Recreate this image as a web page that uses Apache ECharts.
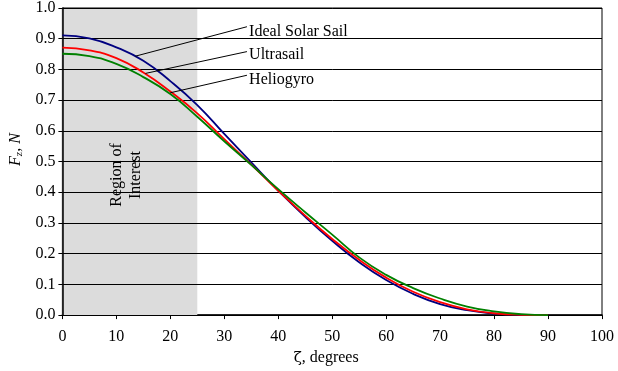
<!DOCTYPE html>
<html>
<head>
<meta charset="utf-8">
<script src="https://cdn.jsdelivr.net/npm/echarts@6/dist/echarts.min.js"></script>
<style>html,body{margin:0;padding:0;background:#fff}#c{width:618px;height:371px}</style>
</head>
<body>
<div id="c"></div>
<script>
// zeta, degrees
const angles = [0, 5, 10, 15, 20, 25, 30, 35, 40, 45, 50, 55, 60, 65, 70, 75, 80, 85, 90];
const idealSail = [0.911, 0.901, 0.872, 0.828, 0.762, 0.684, 0.590, 0.497, 0.405, 0.320, 0.242, 0.172, 0.114, 0.069, 0.036, 0.016, 0.005, 0.001, 0.000];
const ultrasail = [0.871, 0.862, 0.837, 0.790, 0.728, 0.657, 0.573, 0.490, 0.405, 0.324, 0.248, 0.180, 0.122, 0.076, 0.042, 0.019, 0.006, 0.001, 0.000];
const heliogyro = [0.851, 0.843, 0.818, 0.775, 0.720, 0.646, 0.566, 0.489, 0.410, 0.335, 0.262, 0.188, 0.131, 0.088, 0.054, 0.028, 0.012, 0.003, 0.000];
const seriesNames = ['Ideal Solar Sail', 'Ultrasail', 'Heliogyro'];
const seriesColors = ['#000080', '#ff0000', '#008000'];
// annotation: leader line start on curve, end near label, label anchor (data units)
const leaderStart = [[13.5, 0.843], [15.4, 0.787], [20.0, 0.724]];
const leaderEnd = [[34.2, 0.939], [34.2, 0.858], [34.2, 0.781]];
const labelAnchor = [[34.6, 0.923], [34.6, 0.846], [34.6, 0.765]];
const regionRange = [0, 25];
const xTicks = {min: 0, max: 100, interval: 10};
const yTicks = {min: 0, max: 1, interval: 0.1};

const FONT = 'Liberation Serif';
const allData = [idealSail, ultrasail, heliogyro];
const series = allData.map((vals, i) => ({
  name: seriesNames[i],
  type: 'line',
  smooth: true,
  showSymbol: false,
  symbol: 'none',
  z: 4,
  lineStyle: {color: seriesColors[i], width: 1.8},
  data: angles.map((a, j) => [a, vals[j]]),
  markLine: {
    silent: true, symbol: 'none', z: 5,
    lineStyle: {color: '#000', width: 1, type: 'solid'},
    label: {show: false},
    data: [[{coord: leaderStart[i]}, {coord: leaderEnd[i]}]]
  },
  markPoint: {
    silent: true, symbol: 'circle', symbolSize: 0, z: 5,
    label: {show: true, position: 'right', distance: 0, color: '#000',
      fontFamily: FONT, fontSize: 16, formatter: seriesNames[i]},
    data: [{coord: labelAnchor[i]}]
  }
}));
series.unshift({
  type: 'line', data: [], z: 1, silent: true,
  markArea: {silent: true, z: 1, itemStyle: {color: '#dcdcdc'},
    data: [[{xAxis: regionRange[0]}, {xAxis: regionRange[1]}]]}
});

const chart = echarts.init(document.getElementById('c'), null, {renderer: 'canvas'});
chart.setOption({
  animation: false,
  backgroundColor: '#fff',
  grid: {left: 62, right: 16, top: 6, bottom: 54, show: true, borderColor: '#000', borderWidth: 1, backgroundColor: 'transparent'},
  xAxis: {
    type: 'value', min: xTicks.min, max: xTicks.max, interval: xTicks.interval,
    name: '{g|ζ}, degrees', nameLocation: 'middle', nameGap: 30,
    nameTextStyle: {fontFamily: FONT, fontSize: 16, color: '#000', padding: [0, 12, 0, 0],
      rich: {g: {fontFamily: 'DejaVu Serif', fontSize: 15, color: '#000'}}},
    axisLine: {show: true, lineStyle: {color: '#000', width: 1.5}},
    axisTick: {show: true, inside: false, length: 4, lineStyle: {color: '#000'}},
    axisLabel: {fontFamily: FONT, fontSize: 16, color: '#000', margin: 14},
    splitLine: {show: false}
  },
  yAxis: {
    type: 'value', min: yTicks.min, max: yTicks.max, interval: yTicks.interval, z: 3,
    name: '{i|F}{s|z}{i|, N}', nameLocation: 'middle', nameGap: 33, nameRotate: 90,
    nameTextStyle: {color: '#000', padding: [0, 0, 0, 24], rich: {
      i: {fontFamily: FONT, fontSize: 16, fontStyle: 'italic', color: '#000'},
      s: {fontFamily: FONT, fontSize: 11, fontStyle: 'italic', color: '#000', verticalAlign: 'bottom', padding: [6, 0, 0, 0]}
    }},
    axisLine: {show: true, lineStyle: {color: '#000', width: 1.5}},
    axisTick: {show: true, inside: false, length: 4, lineStyle: {color: '#000'}},
    axisLabel: {fontFamily: FONT, fontSize: 16, color: '#000', margin: 7, formatter: v => v.toFixed(1)},
    splitLine: {show: true, lineStyle: {color: '#000', width: 1}}
  },
  graphic: [{
    type: 'text', x: 126, y: 175, rotation: Math.PI / 2, silent: true, z: 3,
    style: {text: 'Region of\nInterest', fontFamily: FONT, fontSize: 16, fill: '#000',
      align: 'center', verticalAlign: 'middle', lineHeight: 19}
  }],
  series: series
});
</script>
</body>
</html>
